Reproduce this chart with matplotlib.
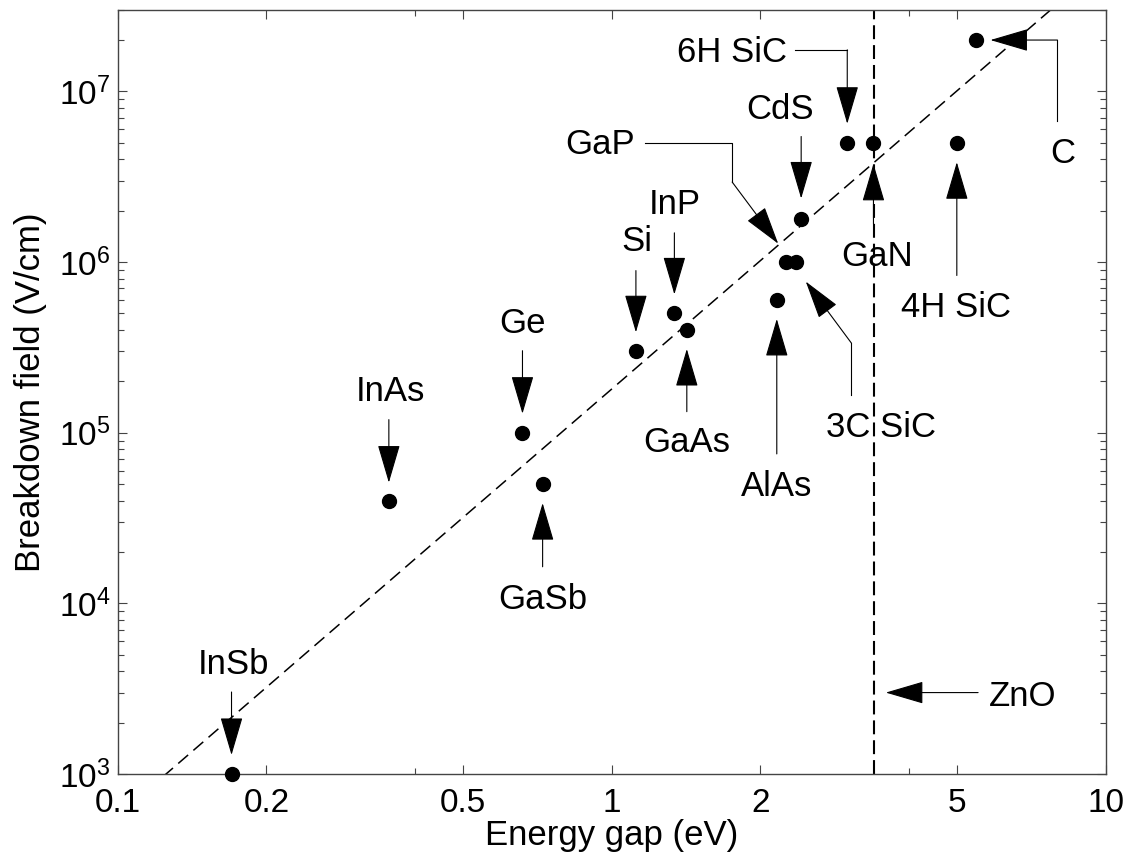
import numpy as np
import matplotlib
matplotlib.use("Agg")
import matplotlib.pyplot as plt
from matplotlib.ticker import FixedLocator, FixedFormatter, LogLocator, NullFormatter

# ---------------- data ----------------
materials = ['InSb', 'InAs', 'Ge', 'GaSb', 'Si', 'InP', 'GaAs', 'AlAs',
             'GaP', '3C SiC', 'CdS', '6H SiC', 'GaN', '4H SiC', 'C']
energy_gap = [0.17, 0.354, 0.66, 0.725, 1.12, 1.34, 1.42, 2.16,
              2.26, 2.36, 2.42, 3.0, 3.39, 5.0, 5.46]          # eV
breakdown_field = [1e3, 4e4, 1e5, 5e4, 3e5, 5e5, 4e5, 6e5,
                   1e6, 1e6, 1.8e6, 5e6, 5e6, 5e6, 2e7]         # V/cm

fit_prefactor = 1.8e5      # E_br = A * Eg^n
fit_exponent = 2.5

zno_label = 'ZnO'
zno_gap = 3.4
zno_arrow_field = 3e3

x_ticks = [0.1, 0.2, 0.5, 1, 2, 5, 10]
x_tick_labels = ['0.1', '0.2', '0.5', '1', '2', '5', '10']
x_minor_ticks = [0.4, 4]

# annotation layout: pixel offsets from the data point (x right, y up)
# text = baseline-centre of label, path = arrow polyline ending at the tip
annot = {
    'InSb':   dict(text=(1.6, 100),    path=[(0, 82), (0, 19)]),
    'InAs':   dict(text=(2, 99.3),     path=[(0, 81), (0, 18)]),
    'Ge':     dict(text=(0, 99.4),     path=[(0, 82), (0, 19)]),
    'GaSb':   dict(text=(0, -125),     path=[(0, -82.7), (0, -19)]),
    'Si':     dict(text=(1, 100.7),    path=[(0, 80.7), (0, 19)]),
    'InP':    dict(text=(0, 99),       path=[(0, 80.6), (0, 19)]),
    'GaAs':   dict(text=(0, -121.7),   path=[(0, -81.7), (0, -19)]),
    'AlAs':   dict(text=(0, -195.7),   path=[(0, -154), (0, -19)]),
    'GaP':    dict(text=(-186.7, 108.4),
                   path=[(-141.7, 119), (-54.3, 119), (-54.3, 80), (-8.3, 18.4)]),
    '3C SiC': dict(text=(85.3, -175),
                   path=[(55.6, -133.3), (55.6, -81), (10, -19.5)]),
    'CdS':    dict(text=(-21.4, 100),  path=[(0, 82), (0, 20)]),
    '6H SiC': dict(text=(-115.6, 80.6),
                   path=[(-52.3, 93), (0, 93), (0, 19)]),
    'GaN':    dict(text=(4, -123.7),   path=[(0, -81), (0, -21)]),
    '4H SiC': dict(text=(-1, -174.4),  path=[(0, -132.7), (0, -19.4)]),
    'C':      dict(text=(86.7, -122.7),
                   path=[(81.7, -80.7), (81.7, 0), (14.7, 0)]),
}
zno_annot = dict(text=(148.7, -13.7), path=[(104, 0), (11.7, 0)])

# ---------------- style ----------------
plt.rcParams['font.family'] = ['Liberation Sans', 'DejaVu Sans']
plt.rcParams['mathtext.default'] = 'regular'
plt.rcParams['mathtext.fontset'] = 'custom'
plt.rcParams['mathtext.rm'] = 'Liberation Sans'
plt.rcParams['lines.scale_dashes'] = False

W, H = 1135, 863
fig = plt.figure(figsize=(W / 100, H / 100), dpi=100)
left, right, top, bottom = 117.7, 1105.5, 10, 774
ax = fig.add_axes([left / W, 1 - bottom / H, (right - left) / W, (bottom - top) / H])

ax.set_xscale('log')
ax.set_yscale('log')
ax.set_xlim(0.1, 10)
ax.set_ylim(1e3, 3e7)

spine_col = '#444444'
for s in ax.spines.values():
    s.set_linewidth(1.0)
    s.set_color(spine_col)

ax.xaxis.set_major_locator(FixedLocator(x_ticks))
ax.xaxis.set_major_formatter(FixedFormatter(x_tick_labels))
ax.xaxis.set_minor_locator(FixedLocator(x_minor_ticks))
ax.xaxis.set_minor_formatter(NullFormatter())
ax.yaxis.set_major_locator(LogLocator(base=10, numticks=20))
ax.yaxis.set_minor_locator(LogLocator(base=10, subs=np.arange(2, 10), numticks=20))
ax.yaxis.set_minor_formatter(NullFormatter())

ax.tick_params(which='both', direction='in', top=True, right=True,
               color=spine_col, width=0.8, labelsize=24)
ax.tick_params(which='major', length=6.8)
ax.tick_params(which='minor', length=4.6)
ax.tick_params(axis='x', which='major', pad=10)
ax.tick_params(axis='y', which='major', pad=5)

ax.set_xlabel('Energy gap (eV)', fontsize=25, labelpad=0)
ax.set_ylabel('Breakdown field (V/cm)', fontsize=25, labelpad=9)

# fit line and ZnO line
xs = np.logspace(-1, 1, 300)
ax.plot(xs, fit_prefactor * xs ** fit_exponent, color='k', lw=1.1,
        dashes=(9.4, 5.0), zorder=2)
ax.axvline(zno_gap, color='k', lw=1.5, dashes=(10, 4.3), zorder=2)

# points
ax.plot(energy_gap, breakdown_field, 'o', color='k', ms=10, zorder=4, clip_on=False)


def off(x, y, dx, dy):
    X, Y = ax.transData.transform((x, y))
    return ax.transData.inverted().transform((X + dx, Y + dy))


def draw_annotation(label, x, y, spec):
    tx, ty = off(x, y, *spec['text'])
    ax.text(tx, ty, label, ha='center', va='baseline', fontsize=25, zorder=5)
    pts = [off(x, y, dx, dy) for dx, dy in spec['path']]
    if len(pts) > 2:
        ax.plot([p[0] for p in pts[:-1]], [p[1] for p in pts[:-1]],
                color='k', lw=0.8, clip_on=False, zorder=3)
    ax.annotate('', xy=pts[-1], xytext=pts[-2], xycoords='data', textcoords='data',
                arrowprops=dict(arrowstyle='-|>,head_length=24.5,head_width=7.2',
                                mutation_scale=1, shrinkA=0, shrinkB=0,
                                color='k', lw=0.8), zorder=3)


for m, x, y in zip(materials, energy_gap, breakdown_field):
    draw_annotation(m, x, y, annot[m])
draw_annotation(zno_label, zno_gap, zno_arrow_field, zno_annot)

fig.savefig('out.png', dpi=100)
